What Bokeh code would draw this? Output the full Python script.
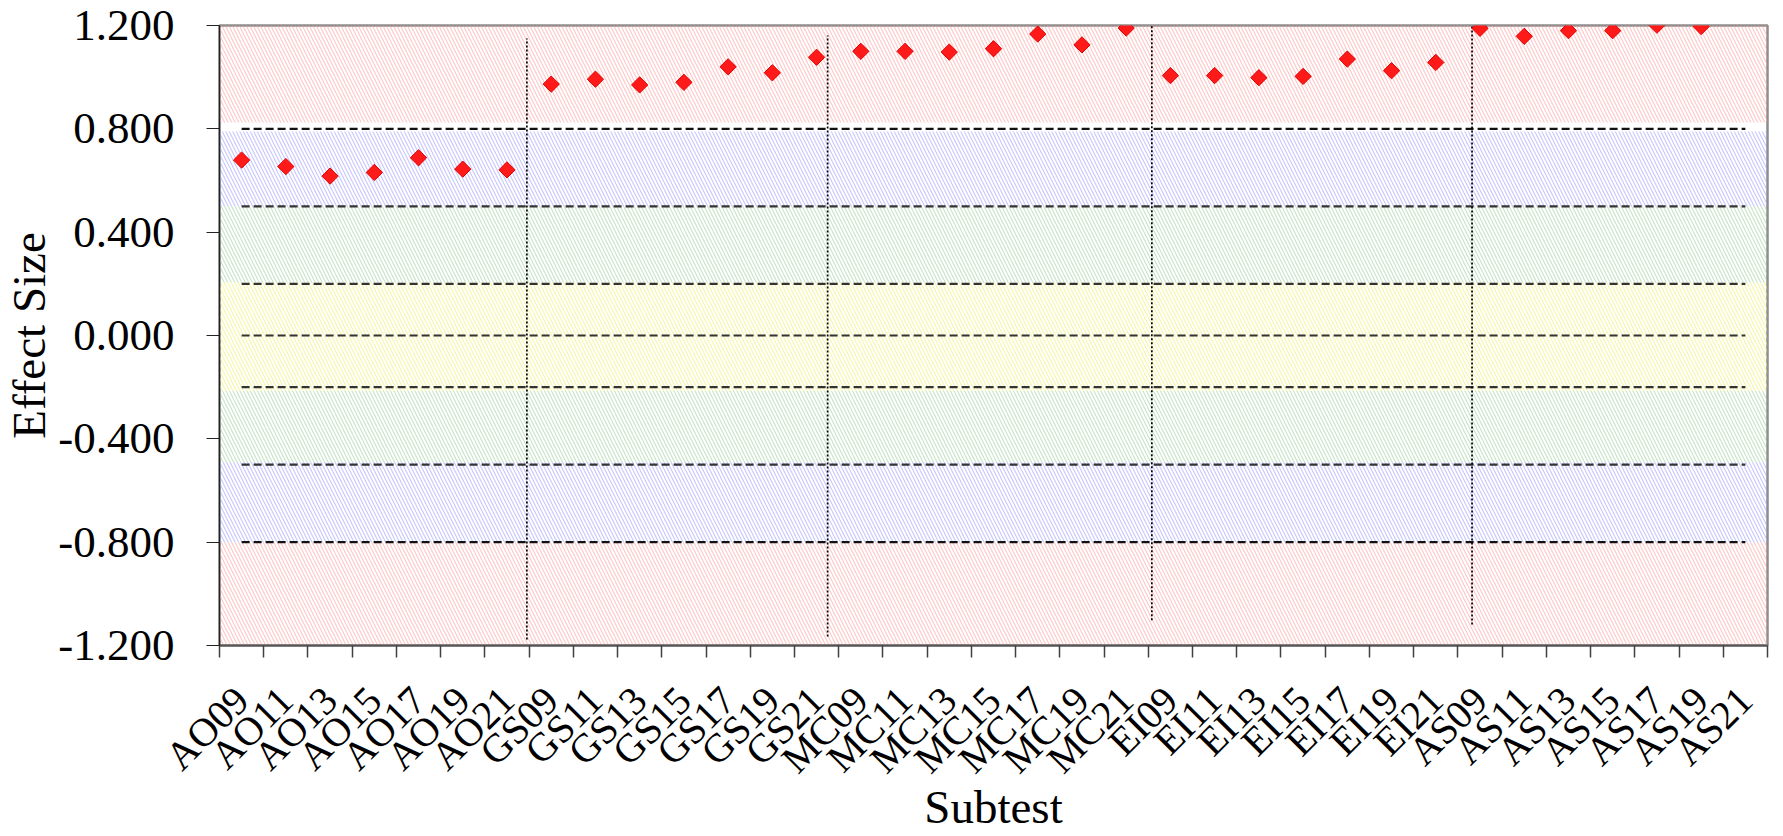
import math
from bokeh.plotting import figure
from bokeh.models import FixedTicker, PrintfTickFormatter, Range1d, ColumnDataSource
from bokeh.embed import file_html
from bokeh.resources import INLINE

# ---- data ----
subtests = ["AO09", "AO11", "AO13", "AO15", "AO17", "AO19", "AO21",
            "GS09", "GS11", "GS13", "GS15", "GS17", "GS19", "GS21",
            "MC09", "MC11", "MC13", "MC15", "MC17", "MC19", "MC21",
            "EI09", "EI11", "EI13", "EI15", "EI17", "EI19", "EI21",
            "AS09", "AS11", "AS13", "AS15", "AS17", "AS19", "AS21"]
effect = [0.679, 0.654, 0.617, 0.631, 0.688, 0.644, 0.641,
          0.973, 0.992, 0.970, 0.980, 1.040, 1.017, 1.077,
          1.100, 1.100, 1.097, 1.110, 1.167, 1.125, 1.190,
          1.006, 1.006, 0.998, 1.003, 1.070, 1.025, 1.057,
          1.189, 1.158, 1.180, 1.180, 1.201, 1.196, float("nan")]
y_ticks = [-1.2, -0.8, -0.4, 0.0, 0.4, 0.8, 1.2]
thresholds = [0.8, 0.5, 0.2, 0.0, -0.2, -0.5, -0.8]
threshold_colors = ["#111111", "#333333", "#333333", "#333333", "#333333", "#333333", "#111111"]
band_lo = [0.825, 0.50, 0.205, -0.215, -0.49, -0.80, -1.25]
band_hi = [1.25, 0.79, 0.50, 0.205, -0.215, -0.49, -0.80]
band_colors = ["#ffa0a0", "#a0a0ff", "#a0d0a0", "#f0f070", "#a0d0a0", "#a0a0ff", "#ffa0a0"]
# group dividers (x in category units, 0 = first category centre)
div_x = [6.45, 13.25, 20.58, 27.82]
div_top = [1.150, 1.161, 1.254, 1.290]
div_bot = [-1.177, -1.165, -1.102, -1.119]

n = len(subtests)
xs = list(range(n))
boundaries = [i - 0.5 for i in range(n + 1)]

FONT = "Liberation Serif"

p = figure(width=1769, height=835, output_backend="svg", toolbar_location=None,
           x_range=Range1d(-0.5, n - 0.5), y_range=Range1d(-1.2, 1.2),
           min_border_left=212, min_border_right=2, min_border_top=25,
           min_border_bottom=190)
p.xgrid.visible = False
p.ygrid.visible = False
p.background_fill_color = "white"
p.border_fill_color = "white"
p.outline_line_color = "#8c8c8c"
p.outline_line_width = 2.5

# background bands
p.quad(left=-0.5, right=n - 0.5, bottom=band_lo, top=band_hi,
       fill_alpha=0, line_color=None,
       hatch_pattern="\\", hatch_color=band_colors, hatch_scale=7,
       hatch_weight=1.1, hatch_alpha=0.6)

# threshold dashed lines
for t, c in zip(thresholds, threshold_colors):
    p.line(x=[xs[0], xs[-1]], y=[t, t], line_color=c, line_width=2.2,
           line_dash="8 4")

# dividers
p.segment(x0=div_x, y0=div_bot, x1=div_x, y1=div_top, line_color="black",
          line_width=1.7, line_dash="2 2")

# points
src = ColumnDataSource(dict(x=xs, y=effect))
p.scatter("x", "y", source=src, marker="square", angle=math.pi / 4, size=11.5,
          fill_color="#ff1a1a", line_color="#e00000", line_width=1)

# x axis
xa = p.xaxis[0]
xa.ticker = FixedTicker(ticks=xs, minor_ticks=boundaries)
xa.major_label_overrides = {i: s for i, s in zip(xs, subtests)}
xa.major_tick_line_color = None
xa.minor_tick_out = 12
xa.minor_tick_in = 0
xa.minor_tick_line_color = "#404040"
xa.minor_tick_line_width = 1.5
xa.axis_line_color = "#555555"
xa.axis_line_width = 2
xa.major_label_orientation = math.pi / 4
xa.major_label_standoff = 36
xa.major_label_text_font = FONT
xa.major_label_text_font_size = "40px"
xa.major_label_text_color = "black"
xa.axis_label = "Subtest"
xa.axis_label_text_font = FONT
xa.axis_label_text_font_size = "47px"
xa.axis_label_text_font_style = "normal"
xa.axis_label_text_color = "black"
xa.axis_label_standoff = -20

# y axis
ya = p.yaxis[0]
ya.ticker = FixedTicker(ticks=y_ticks)
ya.formatter = PrintfTickFormatter(format="%.3f")
ya.major_tick_out = 13
ya.major_tick_in = 0
ya.major_tick_line_color = "#222222"
ya.minor_tick_line_color = None
ya.axis_line_color = "#222222"
ya.axis_line_width = 1.3
ya.major_label_standoff = 32
ya.major_label_text_font = FONT
ya.major_label_text_font_size = "45px"
ya.major_label_text_color = "black"
ya.axis_label = "Effect Size"
ya.axis_label_text_font = FONT
ya.axis_label_text_font_size = "47px"
ya.axis_label_text_font_style = "normal"
ya.axis_label_text_color = "black"
ya.axis_label_standoff = 0

open("out.html", "w").write(file_html(p, INLINE))
